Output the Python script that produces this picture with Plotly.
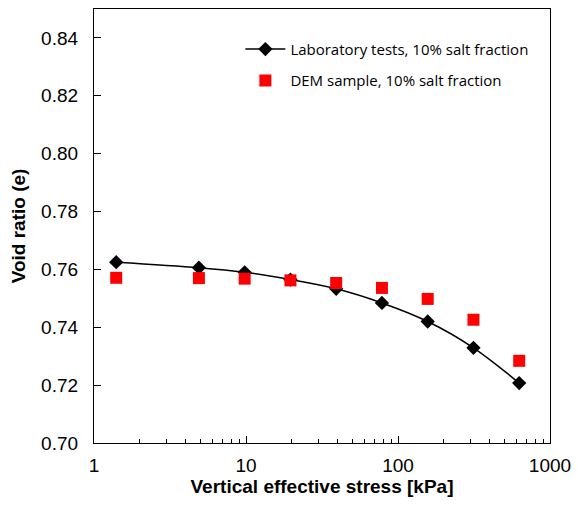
import plotly.graph_objects as go

stress_lab = [1.4, 4.9, 9.8, 19.6, 39.2, 78.4, 156.8, 313.6, 627.2]
void_lab = [0.7625, 0.7606, 0.7590, 0.7565, 0.7533, 0.7484, 0.7420, 0.7329, 0.7207]
stress_dem = [1.4, 4.9, 9.8, 19.6, 39.2, 78.4, 156.8, 313.6, 627.2]
void_dem = [0.7571, 0.7570, 0.7568, 0.7562, 0.7553, 0.7536, 0.7498, 0.7426, 0.7284]

x_major = [1, 10, 100, 1000]
x_major_text = ["1", "10", "100", "1000"]
x_minor = [m * d for d in (1, 10, 100) for m in range(2, 10)]

fig = go.Figure()
fig.add_trace(go.Scatter(
    x=stress_lab, y=void_lab, mode="lines+markers",
    name="Laboratory tests, 10% salt fraction", legendgroup="lab",
    line=dict(color="black", width=1.5, shape="spline"),
    marker=dict(symbol="diamond", size=11, color="black"),
))
fig.add_trace(go.Scatter(
    x=stress_dem, y=void_dem, mode="markers",
    name="DEM sample, 10% salt fraction", legendgroup="dem",
    marker=dict(symbol="square", size=12, color="#FF0000"),
))

tick_font = dict(family="Liberation Sans, Arial", size=19, color="black")
title_font = dict(family="Liberation Sans, Arial", size=19, color="black")
fig.update_layout(
    width=579, height=508,
    margin=dict(l=94, r=23, t=8, b=65),
    plot_bgcolor="white", paper_bgcolor="white",
    showlegend=True,
    legend=dict(x=0.321, y=0.945, xanchor="left", yanchor="top",
                bgcolor="rgba(0,0,0,0)",
                font=dict(family="Open Sans, Noto Sans", size=15, color="black"),
                tracegroupgap=9, itemwidth=40),
    xaxis=dict(
        type="log", range=[0, 3],
        tickmode="array", tickvals=x_major, ticktext=x_major_text,
        ticks="inside", ticklen=7, tickwidth=1.2, tickcolor="black",
        ticklabelstandoff=5,
        minor=dict(tickmode="array", tickvals=x_minor, ticks="inside",
                   ticklen=4, tickwidth=1.2, tickcolor="black", showgrid=False),
        showline=True, linecolor="black", linewidth=1.3, mirror=True,
        showgrid=False, zeroline=False,
        tickfont=tick_font,
        title=dict(text="<b>Vertical effective stress [kPa]</b>",
                   font=title_font, standoff=2),
    ),
    yaxis=dict(
        range=[0.70, 0.85], dtick=0.02, tick0=0.70, tickformat=".2f",
        ticks="inside", ticklen=7, tickwidth=1.2, tickcolor="black",
        ticklabelstandoff=11,
        showline=True, linecolor="black", linewidth=1.3, mirror=True,
        showgrid=False, zeroline=False,
        tickfont=tick_font,
        title=dict(text="<b>Void ratio (e)</b>", font=title_font, standoff=10),
    ),
)

fig.write_html("out.html")
